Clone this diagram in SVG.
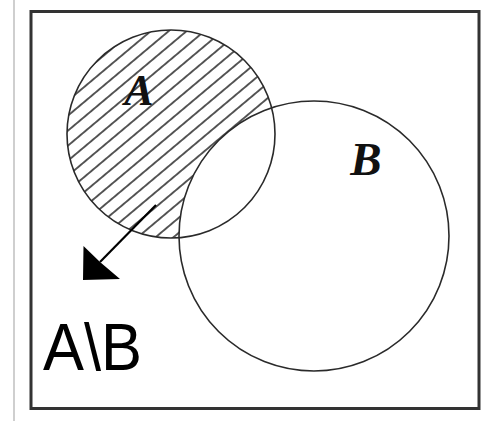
<svg xmlns="http://www.w3.org/2000/svg" width="494" height="421" viewBox="0 0 494 421">
  <style>
    .circle { fill: none; stroke: #2a2a2a; stroke-width: 1.6; }
    .lbl { font-family: "Liberation Serif", "Times New Roman", serif; font-weight: bold; font-style: italic; fill: #111; }
    .sub { font-family: "Liberation Sans", Arial, sans-serif; fill: #000; }
  </style>
  <defs>
    <pattern id="hatch" patternUnits="userSpaceOnUse" width="20" height="11.5" patternTransform="rotate(-40)">
      <line x1="0" y1="5.75" x2="20" y2="5.75" stroke="#222" stroke-width="1.5"/>
    </pattern>
    <mask id="aMinusB" maskUnits="userSpaceOnUse" x="0" y="0" width="494" height="421">
      <circle cx="171" cy="134" r="104" fill="#fff"/>
      <circle cx="314" cy="236" r="135" fill="#000"/>
    </mask>
  </defs>
  <rect x="0" y="0" width="494" height="421" fill="#fff"/>
  <line x1="14" y1="0" x2="14" y2="421" stroke="#cfcfcf" stroke-width="2"/>
  <rect x="31" y="11.5" width="448" height="397" fill="none" stroke="#333" stroke-width="3"/>

  <g id="region-a-minus-b">
    <rect x="60" y="25" width="230" height="220" fill="url(#hatch)" mask="url(#aMinusB)"/>
  </g>
  <g id="node-a">
    <circle class="circle" cx="171" cy="134" r="104"/>
    <text class="lbl" x="139" y="105" font-size="44" text-anchor="middle">A</text>
  </g>
  <g id="node-b">
    <circle class="circle" cx="314" cy="236" r="135"/>
    <text class="lbl" x="366" y="175" font-size="47" text-anchor="middle">B</text>
  </g>
  <g id="connectors">
    <line x1="156" y1="205" x2="100" y2="262" stroke="#000" stroke-width="2.2"/>
    <path d="M83,280 L83.5,246 L100,262 L120,279 Z" fill="#000"/>
  </g>
  <g id="label-a-minus-b">
    <text class="sub" x="43" y="370" font-size="66" textLength="99" lengthAdjust="spacingAndGlyphs">A\B</text>
  </g>
</svg>
